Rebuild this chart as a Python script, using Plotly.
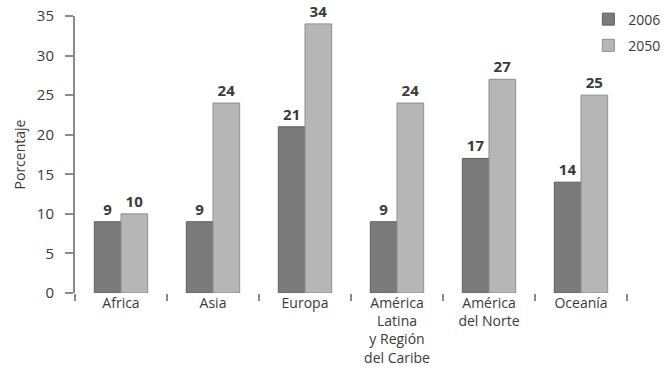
import plotly.graph_objects as go

regions = ["Africa", "Asia", "Europa", "América<br>Latina<br>y Región<br>del Caribe",
           "América<br>del Norte", "Oceanía"]
pct_2006 = [9, 9, 21, 9, 17, 14]
pct_2050 = [10, 24, 34, 24, 27, 25]
y_ticks = [0, 5, 10, 15, 20, 25, 30, 35]

font_family = "Open Sans, Noto Sans, sans-serif"
text_color = "#3a3a3a"

fig = go.Figure()
fig.add_trace(go.Bar(
    x=regions, y=pct_2006, name="2006", legendgroup="a",
    marker=dict(color="#7b7b7b", line=dict(color="#5e5e5e", width=1)),
    text=pct_2006, textposition="outside", cliponaxis=False,
    textfont=dict(size=15, color=text_color, family=font_family, weight="bold"),
))
fig.add_trace(go.Bar(
    x=regions, y=pct_2050, name="2050", legendgroup="b",
    marker=dict(color="#b6b6b6", line=dict(color="#8e8e8e", width=1)),
    text=pct_2050, textposition="outside", cliponaxis=False,
    textfont=dict(size=15, color=text_color, family=font_family, weight="bold"),
))

fig.update_layout(
    width=669, height=375,
    margin=dict(l=75, r=42, t=16, b=82, autoexpand=False),
    paper_bgcolor="white", plot_bgcolor="white",
    barmode="group", bargap=0.42, bargroupgap=0,
    font=dict(family=font_family, size=14, color=text_color),
    showlegend=True,
    legend=dict(x=0.93, y=1.045, xanchor="left", yanchor="top",
                font=dict(size=14, color=text_color),
                traceorder="grouped", itemwidth=30, tracegroupgap=5,
                bgcolor="rgba(0,0,0,0)"),
    xaxis=dict(
        type="category", showgrid=False, showline=False, zeroline=False,
        ticks="outside", tickson="boundaries", ticklen=7, tickwidth=1.5,
        tickcolor="#8a8a8a", tickfont=dict(size=14, color=text_color),
        range=[-0.5, 5.5],
    ),
    yaxis=dict(
        range=[0, 35], tickvals=y_ticks, showgrid=False, zeroline=False,
        showline=True, linecolor="#8a8a8a", linewidth=2,
        ticks="outside", ticklen=8, tickwidth=1.5, tickcolor="#8a8a8a",
        ticklabelstandoff=8,
        tickfont=dict(size=15, color=text_color),
        title=dict(text="Porcentaje", standoff=8,
                   font=dict(size=14, color=text_color)),
    ),
)

fig.write_html("out.html")
